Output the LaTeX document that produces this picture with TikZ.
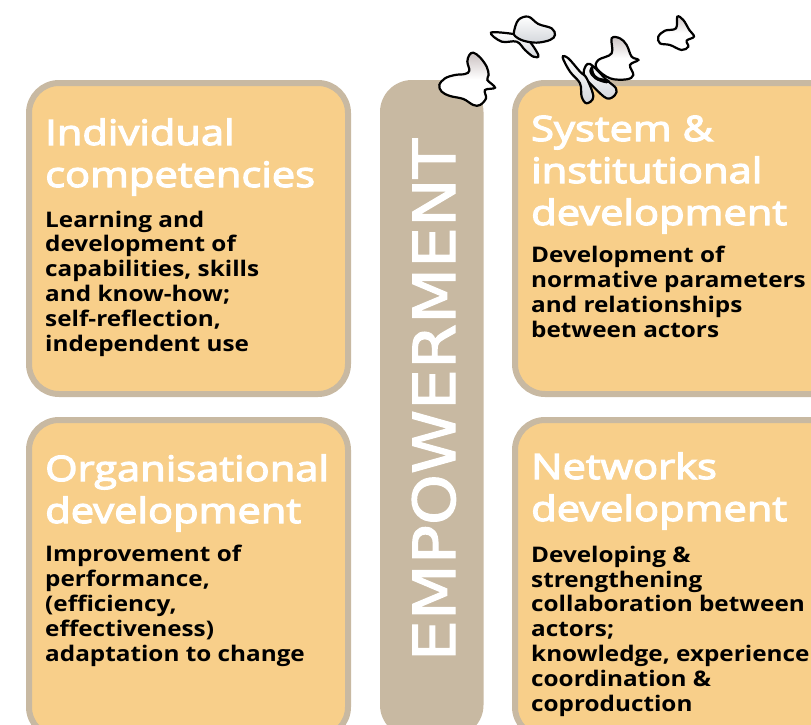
\documentclass[tikz,border=0pt]{standalone}
\usepackage{fontspec}
\setmainfont{DejaVu Sans}
\newfontfamily\bodyfont{Open Sans}[FakeStretch=1.13]
\newfontfamily\titlefont{Open Sans}[FakeStretch=1.19,FakeBold=3.5]
\newfontfamily\bigfont{DejaVu Sans}[FakeStretch=1.118,FakeBold=2]
\definecolor{cardfill}{HTML}{F8CF8A}
\definecolor{cardedge}{HTML}{C8B9A2}
\definecolor{wingtop}{HTML}{C9C0C0}
\definecolor{wingblue}{HTML}{D4D7DC}
\tikzset{
  card/.style={draw=cardedge,fill=cardfill,line width=6pt,rounded corners=30pt},
  titletext/.style={anchor=base west,align=left,inner sep=0pt,text=white,font=\titlefont\fontsize{35}{42}\selectfont},
  bodytext/.style={anchor=base west,align=left,inner sep=0pt,text=black,font=\bodyfont\bfseries\fontsize{21.5}{24.8}\selectfont},
  wing/.style={draw=black,line width=2.2pt,smooth cycle,tension=0.6},
  topshade/.style={top color=wingtop,bottom color=white,middle color=white},
  lowshade/.style={top color=white,bottom color=wingblue},
}
\begin{document}
\begin{tikzpicture}[x=1pt,y=-1pt]
\useasboundingbox (0,0) rectangle (811,725);
\begin{scope}
\clip (0,0) rectangle (811,725);
\draw[card] (29,83) rectangle (348,394);
\draw[card] (29,420) rectangle (348,737);
\draw[card] (515,83) rectangle (860,394);
\draw[card] (515,420) rectangle (860,737);
\fill[cardedge,rounded corners=32pt] (380,80) rectangle (483.5,737);
\end{scope}
\node[rotate=90,anchor=base,inner sep=0pt,text=white,font=\bigfont\fontsize{58}{58}\selectfont] (emp) at (455,400) {EMPOWERMENT};

\node[titletext] (t1) at (45,187) {Individual\\competencies};
\node[bodytext] (b1) at (45,351) {Learning and\\development of\\capabilities, skills\\and know-how;\\self-reflection,\\independent use};
\node[titletext] (t2) at (45,523) {Organisational\\development};
\node[bodytext] (b2) at (45,661) {Improvement of\\performance,\\(efficiency,\\effectiveness)\\adaptation to change};
\node[titletext] (t3) at (531,225) {System \&\\institutional\\development};
\node[bodytext] (b3) at (531,337) {Development of\\normative parameters\\and relationships\\between actors};
\node[titletext] (t4) at (531,521) {Networks\\development};
\node[bodytext] (b4) at (531,711) {Developing \&\\strengthening\\collaboration between\\actors;\\knowledge, experience\\coordination \&\\coproduction};

\begin{scope}[shift={(430,0)},x=0.3333pt,y=-0.3333pt]
\path[wing,topshade] plot coordinates {(112,185)(118,165)(130,158)(150,172)(170,200)(176,225)(172,240)(195,263)(165,270)(168,295)(150,315)(130,315)(100,297)(60,288)(35,275)(28,255)(45,235)(75,225)(105,222)(118,212)};
\path[wing,lowshade] plot coordinates {(183,98)(250,102)(290,115)(325,165)(310,170)(285,150)(260,125)(215,125)};
\path[wing,lowshade] plot coordinates {(252,95)(265,60)(295,50)(325,72)(365,85)(375,105)(360,120)(320,128)(280,122)(255,108)};
\path[wing,lowshade] plot coordinates {(462,210)(480,192)(530,240)(558,265)(555,285)(530,295)(490,260)(465,232)};
\path[wing,lowshade] plot coordinates {(398,172)(415,175)(450,215)(470,235)(490,290)(470,310)(455,290)(450,250)(420,215)};
\fill[black] plot[smooth cycle,tension=0.6] coordinates {(488,195)(478,215)(495,238)(530,250)(538,240)(505,232)(492,218)};
\path[wing,topshade] plot coordinates {(545,115)(570,115)(590,135)(605,170)(625,180)(600,195)(610,225)(590,238)(540,235)(500,205)(505,180)(545,160)};
\path[wing,topshade] plot coordinates {(742,50)(760,60)(778,90)(792,110)(770,122)(775,140)(755,150)(720,135)(690,130)(685,110)(705,92)(738,85)};
\end{scope}
\end{tikzpicture}
\end{document}
